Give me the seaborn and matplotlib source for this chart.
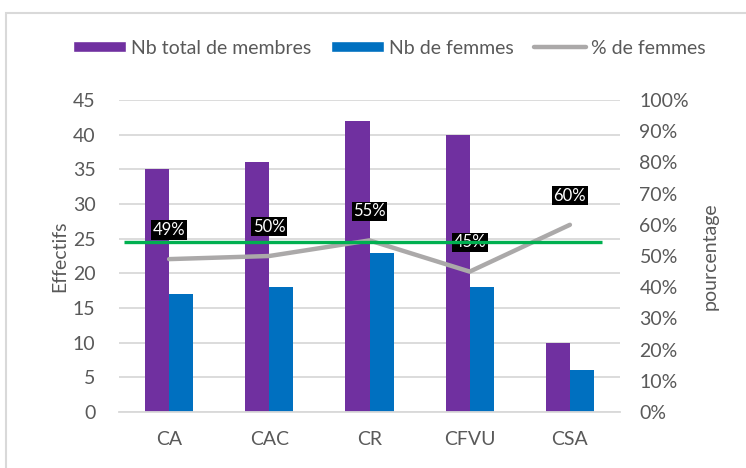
import matplotlib
matplotlib.use("Agg")
import matplotlib.pyplot as plt
from matplotlib.lines import Line2D
from matplotlib.patches import Patch, Rectangle
import seaborn as sns
import pandas as pd

# Data
instances = ["CA", "CAC", "CR", "CFVU", "CSA"]
total_membres = [35, 36, 42, 40, 10]
nb_femmes = [17, 18, 23, 18, 6]
pct_femmes = [0.49, 0.50, 0.55, 0.45, 0.60]
seuil = 0.545

series_names = ["Nb total de membres", "Nb de femmes", "% de femmes"]

PURPLE = "#7030A0"
BLUE = "#0070C0"
GRAY = "#ABA9A9"
GREEN = "#00B050"
TEXT = "#595959"
GRID = "#D9D9D9"
FS = 14

sns.set_theme(style="white")
plt.rcParams["font.family"] = ["Lato", "DejaVu Sans"]

bars = pd.DataFrame({
    "instance": instances * 2,
    "effectif": total_membres + nb_femmes,
    "serie": [series_names[0]] * len(instances) + [series_names[1]] * len(instances),
})
line = pd.DataFrame({"instance": instances, "pct": pct_femmes})

fig = plt.figure(figsize=(7.46, 4.68), dpi=100)
ax = fig.add_axes([119 / 746, 1 - 412 / 468, 501 / 746, 312 / 468])

sns.barplot(data=bars, x="instance", y="effectif", hue="serie",
            palette=[PURPLE, BLUE], width=0.48, gap=0, saturation=1,
            linewidth=0, edgecolor="none",
            ax=ax, legend=False, zorder=2)
ax.set_xlim(-0.5, 4.5)
ax.set_ylim(0, 45)
ax.set_yticks(range(0, 46, 5))
ax.yaxis.grid(True, color=GRID, linewidth=1.3, zorder=0)
ax.set_axisbelow(True)
for side in ["top", "right", "left"]:
    ax.spines[side].set_visible(False)
ax.spines["bottom"].set_color(GRID)
ax.spines["bottom"].set_linewidth(1.3)
ax.tick_params(axis="both", length=0, labelsize=FS, labelcolor=TEXT)
ax.tick_params(axis="y", pad=17)
ax.tick_params(axis="x", pad=14)
ax.set_xlabel("")
ax.set_ylabel("Effectifs", fontsize=FS, color=TEXT, labelpad=3)

ax2 = ax.twinx()
sns.lineplot(data=line, x="instance", y="pct", color=GRAY, linewidth=3.2,
             sort=False, ax=ax2, zorder=3)
ax2.set_ylim(0, 1)
ax2.set_yticks([i / 10 for i in range(11)])
ax2.set_yticklabels([f"{i * 10}%" for i in range(11)])
for side in ["top", "right", "left", "bottom"]:
    ax2.spines[side].set_visible(False)
ax2.tick_params(axis="y", length=0, labelsize=FS, labelcolor=TEXT, pad=14)
ax2.set_ylabel("pourcentage", fontsize=FS, color=TEXT, labelpad=9)
ax2.set_xlim(-0.5, 4.5)

# Percentage labels in black boxes above each point
for i, p in enumerate(pct_femmes):
    ax2.annotate(f"{p:.0%}", (i, p), xytext=(0, 21), textcoords="offset points",
                 ha="center", va="center", color="white", fontsize=12,
                 bbox=dict(boxstyle="square,pad=0.1", fc="black", ec="none"),
                 zorder=4)

# Horizontal reference line
ax2.hlines(seuil, -0.45, 4.32, color=GREEN, linewidth=2.4, zorder=5)

# Legend
handles = [Patch(facecolor=PURPLE), Patch(facecolor=BLUE),
           Line2D([], [], color=GRAY, linewidth=3.2)]
fig.legend(handles, series_names, loc="center", bbox_to_anchor=(0.522, 1 - 48 / 468),
           ncol=3, frameon=False, fontsize=FS, labelcolor=TEXT,
           handlelength=2.7, handleheight=0.55, handletextpad=0.25, columnspacing=1.05)

# Chart frame
fig.patches.append(Rectangle((6 / 746, -0.1), 1.2, 1 - 13 / 468 + 0.1,
                             transform=fig.transFigure, fill=False,
                             edgecolor="#D9D9D9", linewidth=1.5))

fig.savefig("out.png", dpi=100)
